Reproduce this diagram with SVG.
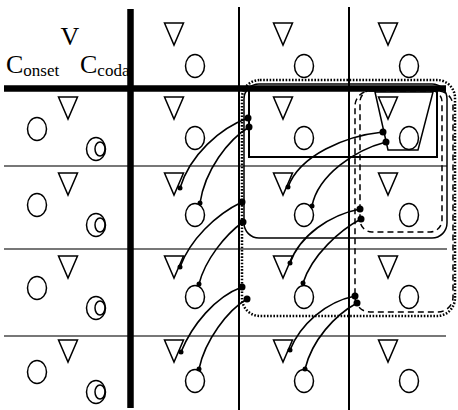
<svg xmlns="http://www.w3.org/2000/svg" width="458" height="410" viewBox="0 0 458 410">
<style>
.bg{fill:#fff}
.tri,.cir{fill:none;stroke:#000;stroke-width:1.5}
.row{stroke:#777;stroke-width:2}
.col{stroke:#000;stroke-width:2}
.thick{stroke:#000;stroke-width:6.5}
.con{fill:none;stroke:#000;stroke-width:1.6}
.dot{fill:#000}
.dotted{fill:none;stroke:#000;stroke-width:2.5;stroke-dasharray:1.6 1.6}
.dashed{fill:none;stroke:#000;stroke-width:1.5;stroke-dasharray:6 4}
.solid{fill:none;stroke:#000;stroke-width:1.5}
.lbl{font-family:"Liberation Serif",serif;fill:#000}
</style>
<defs>
<polygon id="t" class="tri" points="-9.5,0 9.5,0 0,22"/>
<ellipse id="o" class="cir" rx="9.5" ry="11.5"/>
<g id="oo"><ellipse class="cir" rx="9.5" ry="11.5"/><ellipse class="cir" cx="4" rx="5" ry="7"/></g>
</defs>
<rect class="bg" width="458" height="410"/>

<g id="grid">
<line class="row" x1="4" y1="166" x2="447" y2="166"/>
<line class="row" x1="4" y1="249" x2="447" y2="249"/>
<line class="row" x1="4" y1="336" x2="446" y2="336"/>
<line class="col" x1="239" y1="7" x2="239" y2="410"/>
<line class="col" x1="349" y1="7" x2="349" y2="410"/>
<line class="thick" x1="130.5" y1="9" x2="130.5" y2="408"/>
</g>

<g id="enclosures">
<rect class="dotted" x="242" y="80" width="213" height="236" rx="18"/>
<rect class="solid" x="244" y="84" width="203" height="154" rx="15"/>
<rect class="dashed" x="360" y="90" width="82" height="142" rx="12"/>
<rect class="dashed" x="355" y="91" width="98" height="221" rx="15"/>
<rect x="249" y="90" width="188" height="67" fill="none" stroke="#000" stroke-width="2"/>
<polygon class="solid" points="375,92 388,150 418,150 433,92"/>
<line class="thick" x1="4" y1="88.5" x2="446" y2="88.5"/>
</g>

<g id="header-labels">
<text class="lbl" x="70" y="45" font-size="26" text-anchor="middle">V</text>
<text class="lbl" x="6" y="73" font-size="26">C<tspan font-size="17" dy="3">onset</tspan></text>
<text class="lbl" x="80" y="73" font-size="26">C<tspan font-size="17" dy="3">coda</tspan></text>
</g>

<g id="h1"><use href="#t" x="174" y="23"/><use href="#o" x="195" y="66"/></g>
<g id="h2"><use href="#t" x="283" y="23"/><use href="#o" x="304" y="66"/></g>
<g id="h3"><use href="#t" x="388" y="23"/><use href="#o" x="409" y="66"/></g>

<g id="r1c0"><use href="#t" x="68" y="97"/><use href="#o" x="37" y="129"/><use href="#oo" x="96" y="149"/></g>
<g id="r2c0"><use href="#t" x="68" y="173"/><use href="#o" x="37" y="205"/><use href="#oo" x="96" y="225"/></g>
<g id="r3c0"><use href="#t" x="68" y="256"/><use href="#o" x="37" y="288"/><use href="#oo" x="96" y="308"/></g>
<g id="r4c0"><use href="#t" x="68" y="340"/><use href="#o" x="37" y="372"/><use href="#oo" x="96" y="392"/></g>

<g id="r1c1"><use href="#t" x="174" y="97"/><use href="#o" x="195" y="138"/></g>
<g id="r2c1"><use href="#t" x="174" y="173"/><use href="#o" x="195" y="215"/></g>
<g id="r3c1"><use href="#t" x="174" y="256"/><use href="#o" x="195" y="297"/></g>
<g id="r4c1"><use href="#t" x="174" y="340"/><use href="#o" x="195" y="381"/></g>

<g id="r1c2"><use href="#t" x="283" y="97"/><use href="#o" x="304" y="138"/></g>
<g id="r2c2"><use href="#t" x="283" y="173"/><use href="#o" x="304" y="215"/></g>
<g id="r3c2"><use href="#t" x="283" y="256"/><use href="#o" x="304" y="297"/></g>
<g id="r4c2"><use href="#t" x="283" y="340"/><use href="#o" x="304" y="381"/></g>

<g id="r1c3"><use href="#t" x="388" y="97"/><use href="#o" x="409" y="138"/></g>
<g id="r2c3"><use href="#t" x="388" y="173"/><use href="#o" x="409" y="215"/></g>
<g id="r3c3"><use href="#t" x="388" y="256"/><use href="#o" x="409" y="297"/></g>
<g id="r4c3"><use href="#t" x="388" y="340"/><use href="#o" x="409" y="381"/></g>

<g id="connectors">
<path class="con" d="M248,118 C220,128 190,155 180,188"/>
<path class="con" d="M249,127 C228,140 205,170 200,203"/>
<path class="con" d="M383,132 C345,136 300,155 288,187"/>
<path class="con" d="M386,142 C355,150 318,175 312,206"/>
<path class="con" d="M242,202 C215,215 190,240 180,267"/>
<path class="con" d="M243,222 C225,235 205,260 199,284"/>
<path class="con" d="M360,209 C330,215 300,235 290,263"/>
<path class="con" d="M361,219 C340,230 312,255 303,283"/>
<path class="con" d="M242,287 C215,297 192,325 181,352"/>
<path class="con" d="M247,299 C228,310 205,340 199,369"/>
<path class="con" d="M355,296 C325,302 300,325 290,350"/>
<path class="con" d="M357,303 C335,315 312,340 305,369"/>
<g class="dot">
<circle cx="248" cy="118" r="3.5"/><circle cx="249" cy="127" r="3.5"/>
<circle cx="383" cy="132" r="3.5"/><circle cx="386" cy="142" r="3.5"/>
<circle cx="242" cy="202" r="3.5"/><circle cx="243" cy="222" r="3.5"/>
<circle cx="360" cy="209" r="3.5"/><circle cx="361" cy="219" r="3.5"/>
<circle cx="242" cy="287" r="3.5"/><circle cx="247" cy="299" r="3.5"/>
<circle cx="355" cy="296" r="3.5"/><circle cx="357" cy="303" r="3.5"/>
<circle cx="180" cy="188" r="2.5"/><circle cx="200" cy="203" r="2.5"/>
<circle cx="288" cy="187" r="2.5"/><circle cx="312" cy="206" r="2.5"/>
<circle cx="180" cy="267" r="2.5"/><circle cx="199" cy="284" r="2.5"/>
<circle cx="290" cy="263" r="2.5"/><circle cx="303" cy="283" r="2.5"/>
<circle cx="181" cy="352" r="2.5"/><circle cx="199" cy="369" r="2.5"/>
<circle cx="290" cy="350" r="2.5"/><circle cx="305" cy="369" r="2.5"/>
</g>
</g>
</svg>
